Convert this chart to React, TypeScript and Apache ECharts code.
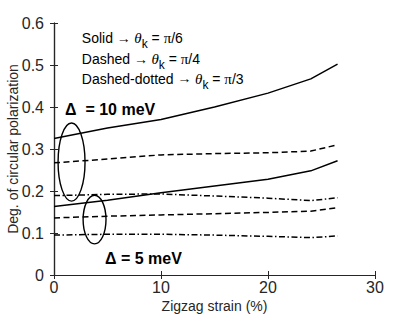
import React, { useEffect, useRef } from "react";
import * as echarts from "echarts";

const strain = [0, 5, 10, 15, 20, 24, 26.5];
const solid10 = [0.325, 0.35, 0.37, 0.4, 0.433, 0.467, 0.502];
const dashed10 = [0.267, 0.276, 0.286, 0.289, 0.291, 0.295, 0.31];
const dashDot10 = [0.189, 0.192, 0.193, 0.188, 0.183, 0.177, 0.184];
const solid5 = [0.163, 0.178, 0.196, 0.212, 0.228, 0.248, 0.272];
const dashed5 = [0.136, 0.14, 0.143, 0.146, 0.149, 0.152, 0.16];
const dashDot5 = [0.095, 0.097, 0.097, 0.095, 0.092, 0.089, 0.093];

// ellipse annotations in data units: [cx, cy, rx, ry]
const ellipses = [
  [1.64, 0.269, 1.26, 0.093],
  [3.79, 0.132, 1.07, 0.058],
];

const legendLines = [
  { label: "Solid ", frac: "/6", y: 0.564 },
  { label: "Dashed ", frac: "/4", y: 0.514 },
  { label: "Dashed-dotted ", frac: "/3", y: 0.467 },
];

const SANS = "'Liberation Sans', Arial, Helvetica, sans-serif";
const SERIF = "'Liberation Serif', 'Times New Roman', serif";
const AX = "#262626";

export default function App() {
  const ref = useRef<HTMLDivElement>(null);
  useEffect(() => {
    if (!ref.current) return;
    const chart = echarts.init(ref.current, null, { renderer: "svg" });
    const mk = (vals: number[], type: any) => ({
      type: "line",
      data: strain.map((s, i) => [s, vals[i]]),
      showSymbol: false,
      symbol: "none",
      lineStyle: { color: "#000", width: 1.5, type },
      silent: true,
    });
    const dash = [6, 3.5];
    const dashDot = [6, 2.5, 1.5, 2.5];
    const axisCommon = {
      type: "value",
      axisLine: { show: true, lineStyle: { color: AX, width: 1.2 } },
      axisTick: { show: true, inside: true, length: 4, lineStyle: { color: AX, width: 1 } },
      splitLine: { show: false },
    };
    chart.setOption({
      animation: false,
      grid: { left: 54, right: 40, top: 23, bottom: 40, containLabel: false, outerBoundsMode: "none" },
      xAxis: [
        {
          ...axisCommon,
          min: 0,
          max: 30,
          interval: 10,
          position: "bottom",
          axisLabel: { color: AX, fontSize: 16, fontFamily: SANS, margin: 4 },
          name: "Zigzag strain (%)",
          nameLocation: "middle",
          nameGap: 24,
          nameMoveOverlap: false,
          nameTextStyle: { color: AX, fontSize: 14, fontFamily: SANS, verticalAlign: "top" },
        },
        {
          ...axisCommon,
          min: 0,
          max: 30,
          interval: 10,
          position: "top",
          axisLabel: { show: false },
        },
      ],
      yAxis: [
        {
          ...axisCommon,
          min: 0,
          max: 0.6,
          interval: 0.1,
          position: "left",
          axisLabel: {
            color: AX,
            fontSize: 16,
            fontFamily: SANS,
            margin: 10,
            formatter: (v: number) => (v === 0 ? "0" : v.toFixed(1)),
          },
          name: "Deg. of circular polarization",
          nameLocation: "middle",
          nameGap: 34,
          nameMoveOverlap: false,
          nameTextStyle: { color: AX, fontSize: 14, fontFamily: SANS },
        },
        {
          ...axisCommon,
          min: 0,
          max: 0.6,
          interval: 0.1,
          position: "right",
          axisLabel: { show: false },
        },
      ],
      series: [
        mk(solid10, "solid"),
        mk(dashed10, dash),
        mk(dashDot10, dashDot),
        mk(solid5, "solid"),
        mk(dashed5, dash),
        mk(dashDot5, dashDot),
      ],
    });

    const px = (x: number, y: number) => chart.convertToPixel({ gridIndex: 0 }, [x, y]) as number[];
    const graphics: any[] = [];
    ellipses.forEach(([cx, cy, rx, ry]) => {
      const c = px(cx, cy);
      const e = px(cx + rx, cy + ry);
      graphics.push({
        type: "ellipse",
        shape: { cx: c[0], cy: c[1], rx: Math.abs(e[0] - c[0]), ry: Math.abs(c[1] - e[1]) },
        style: { fill: "none", stroke: "#000", lineWidth: 1.4 },
        silent: true,
      });
    });
    const rich = {
      n: { fontSize: 14, fontFamily: SANS, fill: "#000", lineHeight: 18 },
      a: { fontSize: 14, fontFamily: SERIF, fill: "#000", lineHeight: 18 },
      t: { fontSize: 15, fontFamily: SERIF, fontStyle: "italic", fill: "#000", lineHeight: 18 },
      s: { fontSize: 12, fontFamily: SANS, fill: "#000", lineHeight: 18, padding: [12, 0, 0, 0] },
      p: { fontSize: 15, fontFamily: SERIF, fill: "#000", lineHeight: 18 },
    };
    legendLines.forEach((l) => {
      const p = px(2.6, l.y);
      graphics.push({
        type: "text",
        x: p[0],
        y: p[1],
        silent: true,
        style: {
          text: `{n|${l.label}}{a|\u2192 }{t|\u03b8}{s|k}{n| = }{p|\u03c0}{n|${l.frac}}`,
          rich,
          fill: "#000",
          verticalAlign: "middle",
          align: "left",
        },
      });
    });
    const d10 = px(1.03, 0.395);
    graphics.push({
      type: "text",
      x: d10[0],
      y: d10[1],
      silent: true,
      style: {
        text: "\u0394  = 10 meV",
        font: `bold 16px ${SANS}`,
        fill: "#000",
        verticalAlign: "middle",
        align: "left",
      },
    });
    const d5 = px(4.77, 0.04);
    graphics.push({
      type: "text",
      x: d5[0],
      y: d5[1],
      silent: true,
      style: {
        text: "\u0394 = 5 meV",
        font: `bold 16px ${SANS}`,
        fill: "#000",
        verticalAlign: "middle",
        align: "left",
      },
    });
    chart.setOption({ graphic: graphics });

    return () => chart.dispose();
  }, []);
  return <div ref={ref} style={{ width: 415, height: 315, position: "absolute", left: 0, top: 0, background: "#fff" }} />;
}
